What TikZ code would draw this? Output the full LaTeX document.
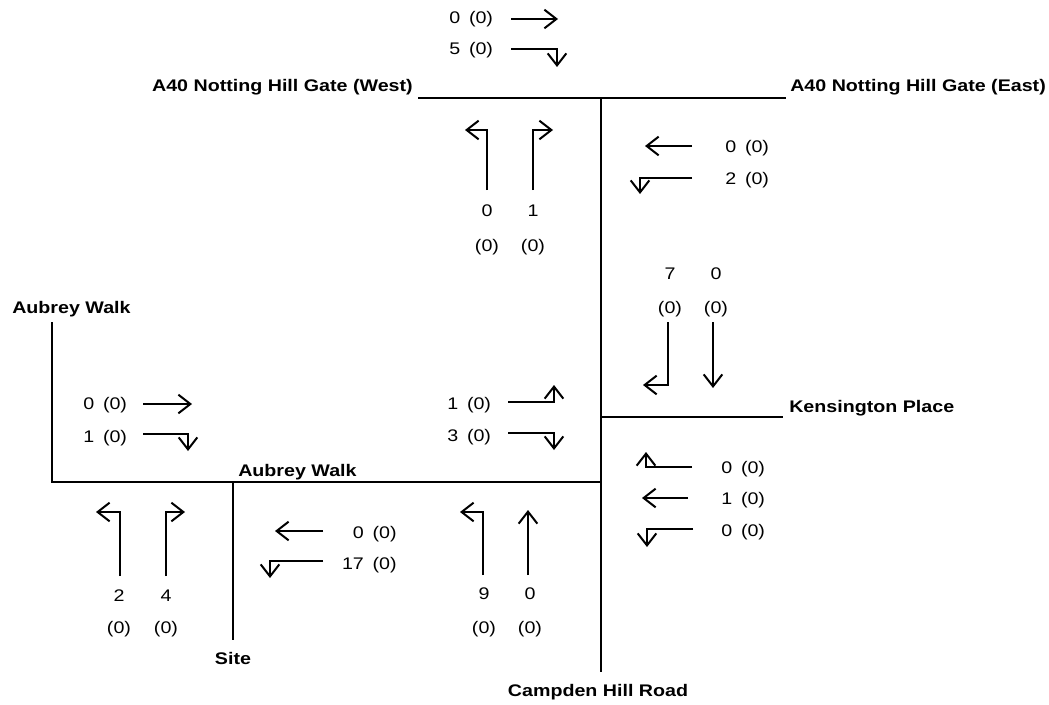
\documentclass[tikz,border=0pt]{standalone}
\usepackage{fontspec}
\setmainfont{Liberation Sans}[FakeStretch=1.17]
\usetikzlibrary{arrows.meta}
\newcommand{\txtsize}{\fontsize{12.6}{14}\selectfont}
\newcommand{\zero}{\hspace{0.2em}(0)}

\begin{document}
\begin{tikzpicture}[x=0.75pt,y=-0.75pt,
    road/.style={line width=1.6pt},
    turn/.style={line width=1.5pt,-{Straight Barb[length=9pt,width=14pt,line width=1.5pt]}},
    cnt/.style={inner sep=0pt,font=\txtsize},
    rname/.style={inner sep=0pt,font=\txtsize\bfseries}]
        \useasboundingbox (0,0) rectangle (1049,704);
        % roads
        \draw[road] (418,98) -- (786,98);
        \draw[road] (601,98) -- (601,672);
        \draw[road] (601,417) -- (783,417);
        \draw[road] (52,322) -- (52,482) -- (601,482);
        \draw[road] (233,482) -- (233,640);
        % road names
        \node[rname,anchor=base east] (ngw) at (413,91) {A40 Notting Hill Gate (West)};
        \node[rname,anchor=base west] (nge) at (790,91) {A40 Notting Hill Gate (East)};
        \node[rname,anchor=base west] (awn) at (12,313) {Aubrey Walk};
        \node[rname,anchor=base west] (aws) at (238,476) {Aubrey Walk};
        \node[rname,anchor=base west] (kp) at (789,412) {Kensington Place};
        \node[rname,anchor=base] (site) at (233,664) {Site};
        \node[rname,anchor=base] (chr) at (598,696) {Campden Hill Road};
        % A40 west arm
        \node[cnt,anchor=base west] (w1) at (449,23) {0 \zero};
        \node[cnt,anchor=base west] (w2) at (449,54) {5 \zero};
        \draw[turn] (511,19) -- (558,19);
        \draw[turn] (511,49) -- (557,49) -- (557,67);
        % A40 east arm
        \node[cnt,anchor=base west] (e1) at (725,152) {0 \zero};
        \node[cnt,anchor=base west] (e2) at (725,184) {2 \zero};
        \draw[turn] (692,146) -- (645,146);
        \draw[turn] (692,178) -- (640,178) -- (640,194);
        % north side, below A40
        \draw[turn] (487,190) -- (487,130) -- (465,130);
        \draw[turn] (533,190) -- (533,130) -- (553,130);
        \node[cnt,anchor=base] (n1) at (487,216) {0};
        \node[cnt,anchor=base] (n2) at (533,216) {1};
        \node[cnt,anchor=base] (n1b) at (487,251) {(0)};
        \node[cnt,anchor=base] (n2b) at (533,251) {(0)};
        % southbound towards Kensington Place
        \node[cnt,anchor=base] (s1) at (670,279) {7};
        \node[cnt,anchor=base] (s2) at (716,279) {0};
        \node[cnt,anchor=base] (s1b) at (670,313) {(0)};
        \node[cnt,anchor=base] (s2b) at (716,313) {(0)};
        \draw[turn] (668,322) -- (668,385) -- (643,385);
        \draw[turn] (713,322) -- (713,388);
        % Aubrey Walk, west end
        \node[cnt,anchor=base west] (a1) at (83,409) {0 \zero};
        \node[cnt,anchor=base west] (a2) at (83,442) {1 \zero};
        \draw[turn] (143,404) -- (192,404);
        \draw[turn] (143,434) -- (188,434) -- (188,451);
        % Aubrey Walk, east end
        \node[cnt,anchor=base west] (b1) at (447,409) {1 \zero};
        \node[cnt,anchor=base west] (b2) at (447,441) {3 \zero};
        \draw[turn] (508,402) -- (554,402) -- (554,385);
        \draw[turn] (508,433) -- (554,433) -- (554,450);
        % west of Site
        \draw[turn] (120,576) -- (120,512) -- (96,512);
        \draw[turn] (166,576) -- (166,512) -- (185,512);
        \node[cnt,anchor=base] (c1) at (119,601) {2};
        \node[cnt,anchor=base] (c2) at (166,601) {4};
        \node[cnt,anchor=base] (c1b) at (119,633) {(0)};
        \node[cnt,anchor=base] (c2b) at (166,633) {(0)};
        % east of Site
        \node[cnt,anchor=base east] (d1) at (397,538) {0 \zero};
        \node[cnt,anchor=base east] (d2) at (397,569) {17 \zero};
        \draw[turn] (323,531) -- (275,531);
        \draw[turn] (323,561) -- (270,561) -- (270,578);
        % Campden Hill Road, northbound
        \draw[turn] (483,575) -- (483,512) -- (460,512);
        \draw[turn] (528,575) -- (528,510);
        \node[cnt,anchor=base] (f1) at (484,599) {9};
        \node[cnt,anchor=base] (f2) at (530,599) {0};
        \node[cnt,anchor=base] (f1b) at (484,633) {(0)};
        \node[cnt,anchor=base] (f2b) at (530,633) {(0)};
        % Kensington Place arm
        \node[cnt,anchor=base west] (k1) at (721,473) {0 \zero};
        \node[cnt,anchor=base west] (k2) at (721,504) {1 \zero};
        \node[cnt,anchor=base west] (k3) at (721,536) {0 \zero};
        \draw[turn] (692,467) -- (646,467) -- (646,452);
        \draw[turn] (688,498) -- (642,498);
        \draw[turn] (693,529) -- (647,529) -- (647,547);
    \end{tikzpicture}
\end{document}
